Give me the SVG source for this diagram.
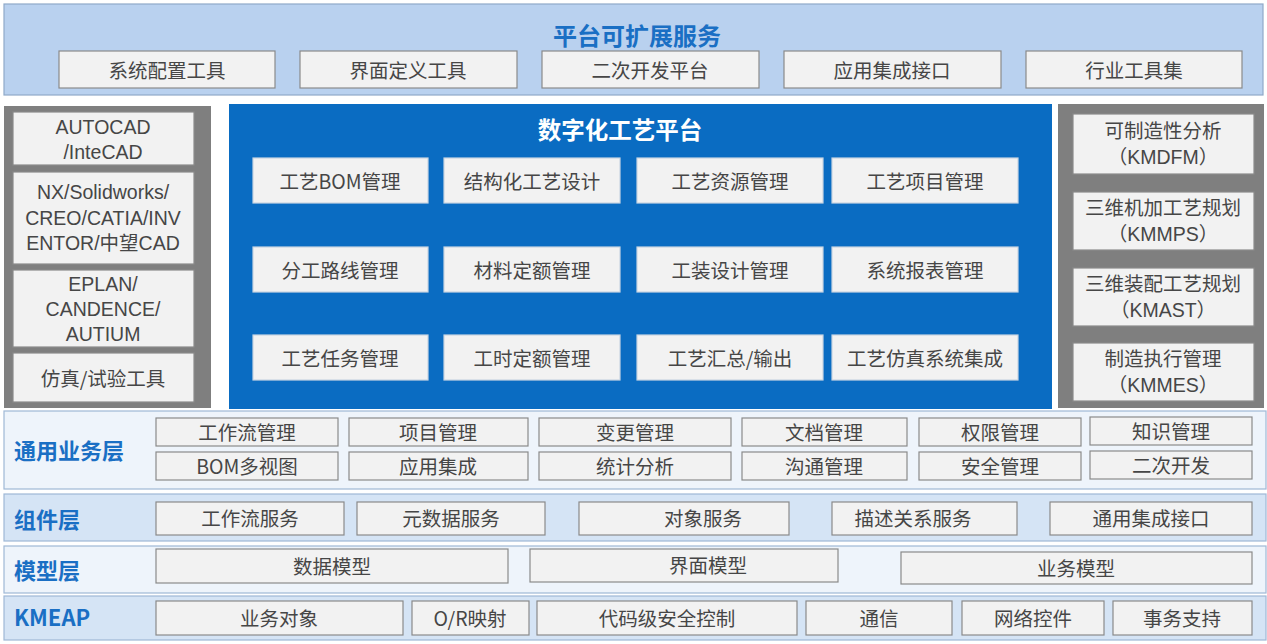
<svg xmlns="http://www.w3.org/2000/svg" width="1267" height="644" viewBox="0 0 1267 644">
<style>
text{font-family:"Noto Sans CJK SC","Noto Sans",sans-serif;text-anchor:middle;dominant-baseline:central}
.b{fill:#f2f2f2;stroke:#8a8a8a;stroke-width:1.2}
.bw{fill:#f2f2f2;stroke:#c8d4e2;stroke-width:1.2}
.t{font-size:19.5px;fill:#464646}
.ts{font-size:19.5px;fill:#464646}
.m{font-family:"Liberation Sans","Noto Sans CJK SC",sans-serif;font-size:19.5px;fill:#464646;dominant-baseline:auto}
.lbl{font-size:22px;font-weight:bold;fill:#1a6fc4;text-anchor:start}
.band{stroke:#9fb8d6;stroke-width:1.2}
</style>
<rect width="1267" height="644" fill="#ffffff"/>
<g id="top">
<rect x="4" y="4" width="1259" height="91" fill="#b9d1ef" stroke="#8fa9c8" stroke-width="1.2"/>
<text x="637" y="34" style="font-size:24px;font-weight:bold;fill:#1a6fc4">平台可扩展服务</text>
<g id="top-1"><rect class="b" x="59" y="51" width="216" height="37"/><text class="t" x="167" y="69">系统配置工具</text></g>
<g id="top-2"><rect class="b" x="300" y="51" width="217" height="37"/><text class="t" x="408" y="69">界面定义工具</text></g>
<g id="top-3"><rect class="b" x="542" y="51" width="217" height="37"/><text class="t" x="650" y="69">二次开发平台</text></g>
<g id="top-4"><rect class="b" x="784" y="51" width="217" height="37"/><text class="t" x="892" y="69">应用集成接口</text></g>
<g id="top-5"><rect class="b" x="1026" y="51" width="216" height="37"/><text class="t" x="1134" y="69">行业工具集</text></g>
</g>
<g id="left">
<rect x="4" y="106" width="207" height="302" fill="#7f7f7f"/>
<g id="l1"><rect class="b" x="13" y="112" width="181" height="53"/><text class="m" x="103" y="134"><tspan x="103">AUTOCAD</tspan><tspan x="103" dy="25">/InteCAD</tspan></text></g>
<g id="l2"><rect class="b" x="13" y="172" width="181" height="92"/><text class="m" x="103" y="199"><tspan x="103">NX/Solidworks/</tspan><tspan x="103" dy="25.5">CREO/CATIA/INV</tspan><tspan x="103" dy="25.5">ENTOR/中望CAD</tspan></text></g>
<g id="l3"><rect class="b" x="13" y="270" width="181" height="77"/><text class="m" x="103" y="291"><tspan x="103">EPLAN/</tspan><tspan x="103" dy="25">CANDENCE/</tspan><tspan x="103" dy="25">AUTIUM</tspan></text></g>
<g id="l4"><rect class="b" x="13" y="353" width="181" height="49"/><text class="t" x="103" y="377">仿真/试验工具</text></g>
</g>
<g id="center">
<rect x="229" y="104" width="823" height="305" fill="#0a6cc2"/>
<text x="620" y="129" style="font-size:23.5px;font-weight:bold;fill:#ffffff">数字化工艺平台</text>
<g id="c1"><rect class="bw" x="253" y="158" width="175" height="45"/><text class="t" x="340" y="180">工艺BOM管理</text></g>
<g id="c2"><rect class="bw" x="444" y="158" width="176" height="45"/><text class="t" x="532" y="180">结构化工艺设计</text></g>
<g id="c3"><rect class="bw" x="637" y="158" width="186" height="45"/><text class="t" x="730" y="180">工艺资源管理</text></g>
<g id="c4"><rect class="bw" x="832" y="158" width="186" height="45"/><text class="t" x="925" y="180">工艺项目管理</text></g>
<g id="c5"><rect class="bw" x="253" y="247" width="175" height="45"/><text class="t" x="340" y="269">分工路线管理</text></g>
<g id="c6"><rect class="bw" x="444" y="247" width="176" height="45"/><text class="t" x="532" y="269">材料定额管理</text></g>
<g id="c7"><rect class="bw" x="637" y="247" width="186" height="45"/><text class="t" x="730" y="269">工装设计管理</text></g>
<g id="c8"><rect class="bw" x="832" y="247" width="186" height="45"/><text class="t" x="925" y="269">系统报表管理</text></g>
<g id="c9"><rect class="bw" x="253" y="335" width="175" height="45"/><text class="t" x="340" y="357">工艺任务管理</text></g>
<g id="c10"><rect class="bw" x="444" y="335" width="176" height="45"/><text class="t" x="532" y="357">工时定额管理</text></g>
<g id="c11"><rect class="bw" x="637" y="335" width="186" height="45"/><text class="t" x="730" y="357">工艺汇总/输出</text></g>
<g id="c12"><rect class="bw" x="832" y="335" width="186" height="45"/><text class="t" x="925" y="357">工艺仿真系统集成</text></g>
</g>
<g id="right">
<rect x="1058" y="104" width="206" height="304" fill="#7f7f7f"/>
<g id="r1"><rect class="b" x="1073" y="114" width="181" height="60"/><text class="m" x="1163" y="138"><tspan x="1163">可制造性分析</tspan><tspan x="1163" dy="26">（KMDFM）</tspan></text></g>
<g id="r2"><rect class="b" x="1073" y="192" width="181" height="58"/><text class="m" x="1163" y="215"><tspan x="1163">三维机加工艺规划</tspan><tspan x="1163" dy="26">（KMMPS）</tspan></text></g>
<g id="r3"><rect class="b" x="1073" y="268" width="181" height="58"/><text class="m" x="1163" y="291"><tspan x="1163">三维装配工艺规划</tspan><tspan x="1163" dy="26">（KMAST）</tspan></text></g>
<g id="r4"><rect class="b" x="1073" y="343" width="181" height="58"/><text class="m" x="1163" y="366"><tspan x="1163">制造执行管理</tspan><tspan x="1163" dy="26">（KMMES）</tspan></text></g>
</g>
<g id="layer-business">
<rect class="band" x="4" y="411" width="1262" height="78" fill="#eef4fb"/>
<text class="lbl" x="14" y="449">通用业务层</text>
<rect class="b" x="156" y="418" width="182" height="28"/><text class="ts" x="247" y="431">工作流管理</text>
<rect class="b" x="349" y="418" width="179" height="28"/><text class="ts" x="438" y="431">项目管理</text>
<rect class="b" x="539" y="418" width="192" height="28"/><text class="ts" x="635" y="431">变更管理</text>
<rect class="b" x="742" y="418" width="165" height="28"/><text class="ts" x="824" y="431">文档管理</text>
<rect class="b" x="919" y="418" width="162" height="28"/><text class="ts" x="1000" y="431">权限管理</text>
<rect class="b" x="1090" y="417" width="162" height="28"/><text class="ts" x="1171" y="430">知识管理</text>
<rect class="b" x="156" y="452" width="182" height="28"/><text class="ts" x="247" y="465">BOM多视图</text>
<rect class="b" x="349" y="452" width="179" height="28"/><text class="ts" x="438" y="465">应用集成</text>
<rect class="b" x="539" y="452" width="192" height="28"/><text class="ts" x="635" y="465">统计分析</text>
<rect class="b" x="742" y="452" width="165" height="28"/><text class="ts" x="824" y="465">沟通管理</text>
<rect class="b" x="919" y="452" width="162" height="28"/><text class="ts" x="1000" y="465">安全管理</text>
<rect class="b" x="1090" y="451" width="162" height="28"/><text class="ts" x="1171" y="464">二次开发</text>
</g>
<g id="layer-component">
<rect class="band" x="4" y="494" width="1262" height="47" fill="#d5e4f5"/>
<text class="lbl" x="14" y="518">组件层</text>
<rect class="b" x="156" y="502" width="188" height="33"/><text class="ts" x="250" y="517">工作流服务</text>
<rect class="b" x="357" y="502" width="188" height="33"/><text class="ts" x="451" y="517">元数据服务</text>
<rect class="b" x="579" y="502" width="210" height="33"/><text class="ts" x="703" y="517">对象服务</text>
<rect class="b" x="832" y="502" width="185" height="33"/><text class="ts" x="913" y="517">描述关系服务</text>
<rect class="b" x="1050" y="502" width="202" height="33"/><text class="ts" x="1151" y="517">通用集成接口</text>
</g>
<g id="layer-model">
<rect class="band" x="4" y="546" width="1262" height="47" fill="#eef4fb"/>
<text class="lbl" x="14" y="569">模型层</text>
<rect class="b" x="156" y="549" width="352" height="34"/><text class="ts" x="332" y="565">数据模型</text>
<rect class="b" x="530" y="549" width="308" height="33"/><text class="ts" x="708" y="564">界面模型</text>
<rect class="b" x="901" y="552" width="351" height="32"/><text class="ts" x="1076" y="567">业务模型</text>
</g>
<g id="layer-kmeap">
<rect class="band" x="4" y="596" width="1262" height="44" fill="#d5e4f5"/>
<text class="lbl" x="14" y="616">KMEAP</text>
<rect class="b" x="156" y="601" width="247" height="34"/><text class="ts" x="279" y="617">业务对象</text>
<rect class="b" x="412" y="601" width="117" height="34"/><text class="ts" x="470" y="617">O/R映射</text>
<rect class="b" x="537" y="601" width="260" height="34"/><text class="ts" x="667" y="617">代码级安全控制</text>
<rect class="b" x="806" y="601" width="146" height="34"/><text class="ts" x="879" y="617">通信</text>
<rect class="b" x="962" y="601" width="142" height="34"/><text class="ts" x="1033" y="617">网络控件</text>
<rect class="b" x="1113" y="601" width="139" height="34"/><text class="ts" x="1182" y="617">事务支持</text>
</g>
<g id="connectors"></g>
</svg>
